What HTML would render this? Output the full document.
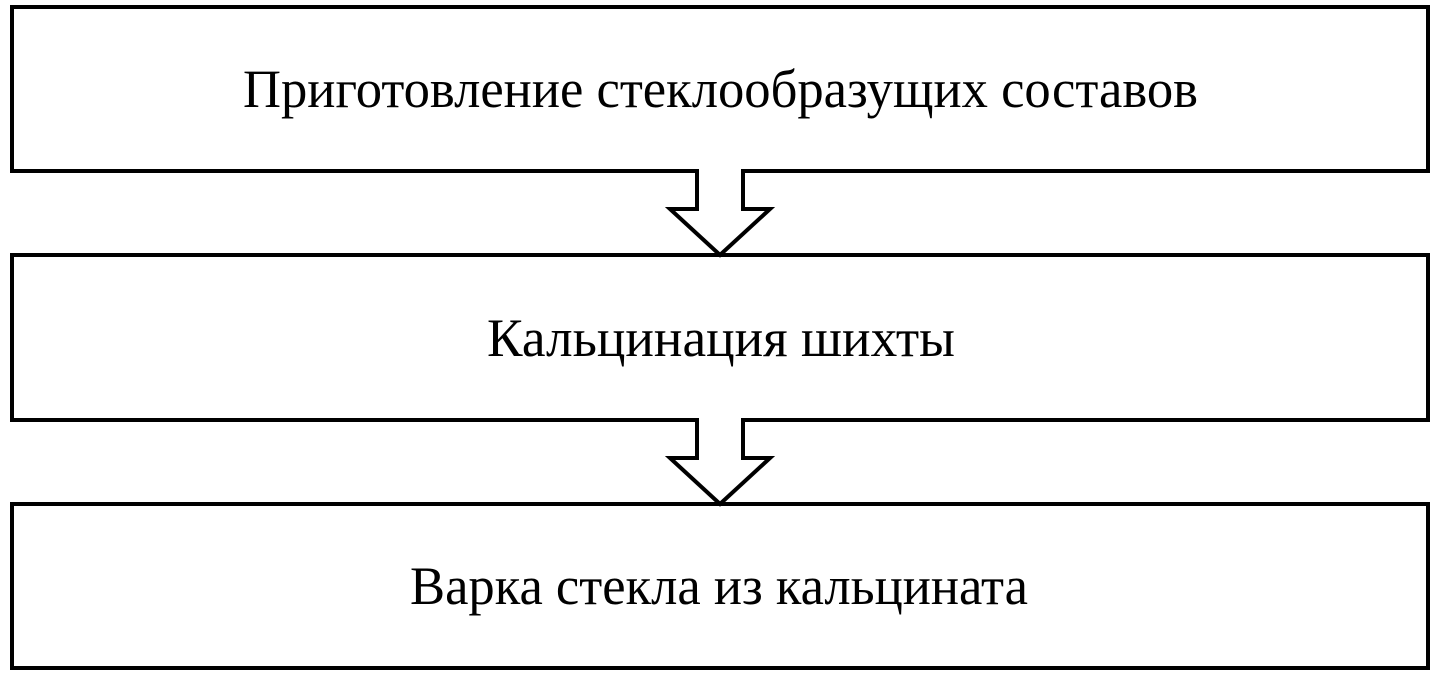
<!DOCTYPE html>
<html><head><meta charset="utf-8"><style>html,body{margin:0;padding:0;background:#fff}</style></head>
<body>
<svg width="1436" height="681" viewBox="0 0 1436 681" xmlns="http://www.w3.org/2000/svg">
<g fill="#fff" stroke="#000" stroke-width="4">
<rect x="12" y="7" width="1416" height="164"/>
<rect x="12" y="255" width="1416" height="165"/>
<rect x="12" y="504" width="1416" height="164"/>
</g>
<g fill="#fff" stroke="#000" stroke-width="4" stroke-linejoin="miter">
<polyline points="697,169 697,209 670,209 720,255 770,209 743,209 743,169"/>
<polyline points="697,418 697,458 670,458 720,504 770,458 743,458 743,418"/>
</g>
<rect x="699" y="166" width="42" height="8" fill="#fff"/>
<rect x="699" y="415" width="42" height="8" fill="#fff"/>
<g font-family="Liberation Serif, serif" font-size="54" fill="#000">
<text x="243" y="107" textLength="955" lengthAdjust="spacingAndGlyphs">Приготовление стеклообразущих составов</text>
<text x="487" y="356" textLength="468" lengthAdjust="spacingAndGlyphs">Кальцинация шихты</text>
<text x="410" y="604" textLength="618" lengthAdjust="spacingAndGlyphs">Варка стекла из кальцината</text>
</g>
</svg>
</body></html>
